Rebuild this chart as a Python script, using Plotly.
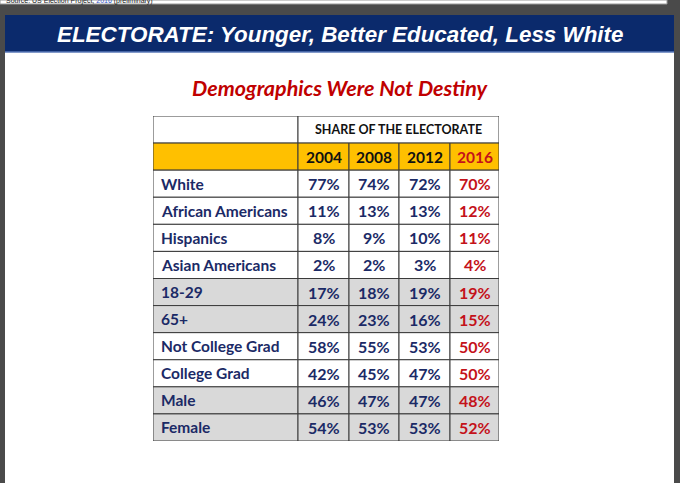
import plotly.graph_objects as go

# data
years = ["2004", "2008", "2012", "2016"]
groups = ["White", "African Americans", "Hispanics", "Asian Americans",
          "18-29", "65+", "Not College Grad", "College Grad", "Male", "Female"]
share_2004 = [77, 11, 8, 2, 17, 24, 58, 42, 46, 54]
share_2008 = [74, 13, 9, 2, 18, 23, 55, 45, 47, 53]
share_2012 = [72, 13, 10, 3, 19, 16, 53, 47, 47, 53]
share_2016 = [70, 12, 11, 4, 19, 15, 50, 50, 48, 52]
shaded = ["18-29", "65+", "Male", "Female"]

title = "ELECTORATE: Younger, Better Educated, Less White"
subtitle = "Demographics Were Not Destiny"
header = "SHARE OF THE ELECTORATE"
source = "Source: US Election Project, <span style='color:#3355cc'>2016</span> (preliminary)"

W, H = 680, 483
NAVY = "#0b2a6c"
TXT = "#1b2a66"
RED = "#c4121a"
GOLD = "#ffc000"
GREY = "#d9d9d9"
EDGE = "#3a3a3a"
FONT = "Lato"

columns = [share_2004, share_2008, share_2012, share_2016]
col_edges = [0, 145, 196, 246, 297, 346]   # table axis units (px wide)


def px_x(x):
    return x / W


def px_y(y):
    return 1 - y / H


fig = go.Figure()

shapes = []
# page decoration: source strip, slide, banner
shapes.append(dict(type="rect", xref="paper", yref="paper", x0=0, x1=px_x(667),
                   y0=px_y(4), y1=1, fillcolor="white", line=dict(color="#999", width=1)))
shapes.append(dict(type="rect", xref="paper", yref="paper", x0=px_x(5), x1=px_x(674),
                   y0=0, y1=px_y(15), fillcolor="white", line=dict(width=0)))
shapes.append(dict(type="rect", xref="paper", yref="paper", x0=px_x(5), x1=px_x(674),
                   y0=px_y(52), y1=px_y(15), fillcolor=NAVY, line=dict(width=0)))
shapes.append(dict(type="line", xref="paper", yref="paper", x0=px_x(5), x1=px_x(674),
                   y0=px_y(52), y1=px_y(52), line=dict(color="#5a78b8", width=1.5)))


def cell(c0, c1, r, fill):
    shapes.append(dict(type="rect", xref="x", yref="y",
                       x0=col_edges[c0], x1=col_edges[c1], y0=r, y1=r + 1,
                       fillcolor=fill, line=dict(color=EDGE, width=1)))


# header rows
cell(0, 1, 0, "white")
cell(1, 5, 0, "white")
for c in range(5):
    cell(c, c + 1, 1, GOLD)

annotations = []


def text(x, y, s, color, size=16, anchor="center"):
    annotations.append(dict(x=x, y=y, xref="x", yref="y", text=s, showarrow=False,
                            xanchor=anchor, yanchor="middle",
                            font=dict(family=FONT, size=size, color=color, weight="bold")))


text((col_edges[1] + col_edges[5]) / 2, 0.5, header, "#111", size=12.5)
for j, yr in enumerate(years):
    text((col_edges[j + 1] + col_edges[j + 2]) / 2, 1.5, yr,
         RED if yr == "2016" else "#111", size=15.5)

for i, g in enumerate(groups):
    r = i + 2
    fill = GREY if g in shaded else "white"
    for c in range(5):
        cell(c, c + 1, r, fill)
    text(6, r + 0.5, g, TXT, size=15.5, anchor="left")
    for j, vals in enumerate(columns):
        text((col_edges[j + 1] + col_edges[j + 2]) / 2, r + 0.5, f"{vals[i]}%",
             RED if j == 3 else TXT)

# slide texts
annotations.append(dict(x=px_x(340), y=px_y(35), xref="paper", yref="paper", text=title,
                        showarrow=False, yanchor="middle",
                        font=dict(family="Liberation Sans", size=22.4, color="white",
                                  weight="bold", style="italic")))
annotations.append(dict(x=px_x(340), y=px_y(88), xref="paper", yref="paper", text=subtitle,
                        showarrow=False, yanchor="middle",
                        font=dict(family=FONT, size=21.5, color="#c00000",
                                  weight="bold", style="italic")))
annotations.append(dict(x=px_x(4), y=px_y(1), xref="paper", yref="paper", text=source,
                        showarrow=False, xanchor="left", yanchor="middle",
                        font=dict(family="Liberation Sans", size=7, color="#222")))

# invisible trace so the axes exist
fig.add_trace(go.Scatter(x=[0, col_edges[-1]], y=[0, len(groups) + 2], mode="markers",
                         marker=dict(opacity=0), hoverinfo="skip", showlegend=False))

fig.update_layout(
    width=W, height=H,
    margin=dict(l=0, r=0, t=0, b=0),
    paper_bgcolor="#4a4a4a",
    plot_bgcolor="rgba(0,0,0,0)",
    shapes=shapes,
    annotations=annotations,
    xaxis=dict(domain=[px_x(153), px_x(499)], range=[0, col_edges[-1]],
               visible=False, fixedrange=True),
    yaxis=dict(domain=[px_y(441), px_y(116)], range=[len(groups) + 2, 0],
               visible=False, fixedrange=True),
)

# drop the page's default body margin so the figure sits at the top-left corner
fig.write_html("out.html", config={"displayModeBar": False},
               post_script="document.body.style.margin='0';")
